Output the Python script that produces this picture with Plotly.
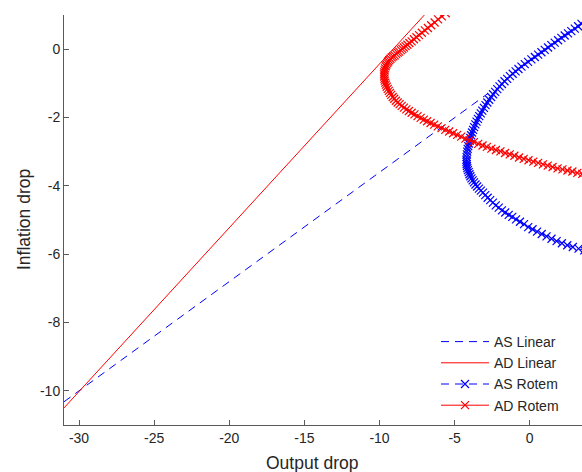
import plotly.graph_objects as go

# ---------------- data ----------------
as_linear_x = [-31.0, -2.79]
as_linear_y = [-10.32, -1.30]

ad_linear_x = [-31.0, -6.97]
ad_linear_y = [-10.50, 1.02]

as_rotem_x = [3.45, 3.22, 3.00, 2.77, 2.55, 2.33, 2.11, 1.89, 1.66, 1.44, 1.22, 1.00, 0.78, 0.56,
              0.34, 0.11, -0.11, -0.33, -0.55, -0.75, -0.94, -1.13, -1.32, -1.50, -1.68, -1.85,
              -2.01, -2.16, -2.30, -2.44, -2.57, -2.70, -2.82, -2.94, -3.05, -3.16, -3.26, -3.36,
              -3.45, -3.54, -3.62, -3.70, -3.77, -3.84, -3.90, -3.95, -4.00, -4.05, -4.09, -4.13,
              -4.16, -4.18, -4.20, -4.21, -4.21, -4.20, -4.18, -4.15, -4.11, -4.06, -4.01, -3.95,
              -3.88, -3.80, -3.71, -3.61, -3.50, -3.38, -3.25, -3.11, -2.96, -2.80, -2.63, -2.45,
              -2.26, -2.06, -1.85, -1.63, -1.40, -1.16, -0.91, -0.65, -0.38, -0.10, 0.19, 0.49,
              0.80, 1.12, 1.45, 1.79, 2.14, 2.50, 2.87, 3.25, 3.63]
as_rotem_y = [0.74, 0.67, 0.60, 0.53, 0.46, 0.40, 0.33, 0.26, 0.19, 0.12, 0.05, -0.02, -0.09, -0.16,
              -0.23, -0.30, -0.37, -0.44, -0.51, -0.58, -0.65, -0.72, -0.79, -0.87, -0.94, -1.02,
              -1.09, -1.17, -1.25, -1.32, -1.40, -1.48, -1.56, -1.64, -1.72, -1.80, -1.88, -1.96,
              -2.04, -2.12, -2.20, -2.28, -2.36, -2.44, -2.52, -2.60, -2.68, -2.76, -2.84, -2.92,
              -3.00, -3.08, -3.16, -3.24, -3.30, -3.36, -3.42, -3.48, -3.54, -3.60, -3.66, -3.72,
              -3.78, -3.84, -3.90, -3.96, -4.02, -4.08, -4.14, -4.20, -4.27, -4.35, -4.42, -4.49,
              -4.57, -4.64, -4.72, -4.78, -4.85, -4.91, -4.98, -5.05, -5.12, -5.21, -5.27, -5.34,
              -5.41, -5.48, -5.55, -5.62, -5.68, -5.74, -5.79, -5.84, -5.89]

ad_rotem_x = [-5.59, -5.85, -6.10, -6.33, -6.56, -6.78, -6.98, -7.18, -7.37, -7.54, -7.71, -7.86,
              -8.01, -8.14, -8.26, -8.38, -8.48, -8.58, -8.69, -8.79, -8.89, -8.99, -9.09, -9.18,
              -9.27, -9.35, -9.42, -9.48, -9.54, -9.59, -9.63, -9.66, -9.69, -9.70, -9.69, -9.67,
              -9.65, -9.61, -9.57, -9.52, -9.45, -9.38, -9.30, -9.22, -9.12, -9.02, -8.91, -8.79,
              -8.66, -8.52, -8.37, -8.21, -8.04, -7.86, -7.67, -7.47, -7.26, -7.05, -6.83, -6.60,
              -6.36, -6.12, -5.87, -5.62, -5.36, -5.10, -4.83, -4.56, -4.28, -4.00, -3.72, -3.43,
              -3.14, -2.85, -2.55, -2.25, -1.95, -1.64, -1.33, -1.02, -0.71, -0.40, -0.08, 0.24,
              0.56, 0.88, 1.20, 1.52, 1.85, 2.18, 2.51, 2.84, 3.17, 3.50]
ad_rotem_y = [1.05, 0.96, 0.87, 0.78, 0.70, 0.62, 0.55, 0.48, 0.41, 0.35, 0.29, 0.23,
              0.18, 0.13, 0.09, 0.05, 0.01, -0.03, -0.07, -0.10, -0.14, -0.18, -0.21, -0.24,
              -0.28, -0.32, -0.36, -0.40, -0.45, -0.50, -0.56, -0.62, -0.68, -0.74, -0.80, -0.86,
              -0.92, -0.98, -1.04, -1.10, -1.16, -1.22, -1.28, -1.34, -1.40, -1.45, -1.51, -1.56,
              -1.61, -1.66, -1.71, -1.76, -1.81, -1.86, -1.91, -1.96, -2.01, -2.06, -2.11, -2.16,
              -2.21, -2.26, -2.31, -2.36, -2.41, -2.46, -2.51, -2.56, -2.62, -2.67, -2.72, -2.77,
              -2.82, -2.86, -2.91, -2.95, -2.99, -3.04, -3.08, -3.12, -3.17, -3.21, -3.25, -3.29,
              -3.33, -3.37, -3.41, -3.45, -3.49, -3.52, -3.55, -3.58, -3.62, -3.65]

x_ticks = [-30, -25, -20, -15, -10, -5, 0]
y_ticks = [-10, -8, -6, -4, -2, 0]

series_names = ["AS Linear", "AD Linear", "AS Rotem", "AD Rotem"]
x_title = "Output drop"
y_title = "Inflation drop"

BLUE = "#0000FF"
RED = "#FF0000"
AXIS = "#5a5a5a"
TEXT = "#262626"
FONT = "Liberation Sans, Arial, sans-serif"

fig = go.Figure()
fig.add_trace(go.Scatter(x=as_linear_x, y=as_linear_y, mode="lines", name=series_names[0],
                         line=dict(color=BLUE, width=1, dash="8px,6px")))
fig.add_trace(go.Scatter(x=ad_linear_x, y=ad_linear_y, mode="lines", name=series_names[1],
                         line=dict(color=RED, width=1)))
fig.add_trace(go.Scatter(x=as_rotem_x, y=as_rotem_y, mode="lines+markers", name=series_names[2],
                         line=dict(color=BLUE, width=1, dash="8px,6px"),
                         marker=dict(symbol="x-thin", size=8, line=dict(color=BLUE, width=1.2), color=BLUE)))
fig.add_trace(go.Scatter(x=ad_rotem_x, y=ad_rotem_y, mode="lines+markers", name=series_names[3],
                         line=dict(color=RED, width=1),
                         marker=dict(symbol="x-thin", size=8, line=dict(color=RED, width=1.2), color=RED)))

L, R, T, B = 64, 0, 15, 47
W, H = 582, 472
pw, ph = W - L - R, H - T - B

def px_to_paper_x(px):
    return (px - L) / pw

def px_to_paper_y(py):
    return (H - B - py) / ph

fig.update_layout(
    width=W, height=H,
    margin=dict(l=L, r=R, t=T, b=B, pad=0),
    paper_bgcolor="white", plot_bgcolor="white",
    font=dict(family=FONT, color=TEXT, size=14),
    showlegend=True,
    legend=dict(x=px_to_paper_x(436), y=px_to_paper_y(326), xanchor="left", yanchor="top",
                bgcolor="rgba(0,0,0,0)", borderwidth=0, font=dict(size=14, color=TEXT, family=FONT),
                itemwidth=48, tracegroupgap=0),
    xaxis=dict(range=[-31, 3.48], tickmode="array", tickvals=x_ticks,
               ticktext=[str(v) for v in x_ticks],
               showgrid=False, zeroline=False, showline=True, linecolor=AXIS, linewidth=1,
               ticks="inside", ticklen=5, tickcolor=AXIS, tickwidth=1, mirror=False,
               tickfont=dict(size=14, color=TEXT, family=FONT)),
    yaxis=dict(range=[-11, 1], tickmode="array", tickvals=y_ticks,
               ticktext=[str(v) for v in y_ticks],
               showgrid=False, zeroline=False, showline=True, linecolor=AXIS, linewidth=1,
               ticks="inside", ticklen=5, tickcolor=AXIS, tickwidth=1, mirror=False,
               tickfont=dict(size=14, color=TEXT, family=FONT)),
    annotations=[
        dict(text=x_title, xref="paper", yref="paper", x=px_to_paper_x(312), y=px_to_paper_y(463),
             xanchor="center", yanchor="middle", showarrow=False,
             font=dict(size=17.5, color=TEXT, family=FONT)),
        dict(text=y_title, xref="paper", yref="paper", x=px_to_paper_x(24), y=px_to_paper_y(220),
             xanchor="center", yanchor="middle", showarrow=False, textangle=-90,
             font=dict(size=17.5, color=TEXT, family=FONT)),
    ],
)

fig.write_html("out.html")
